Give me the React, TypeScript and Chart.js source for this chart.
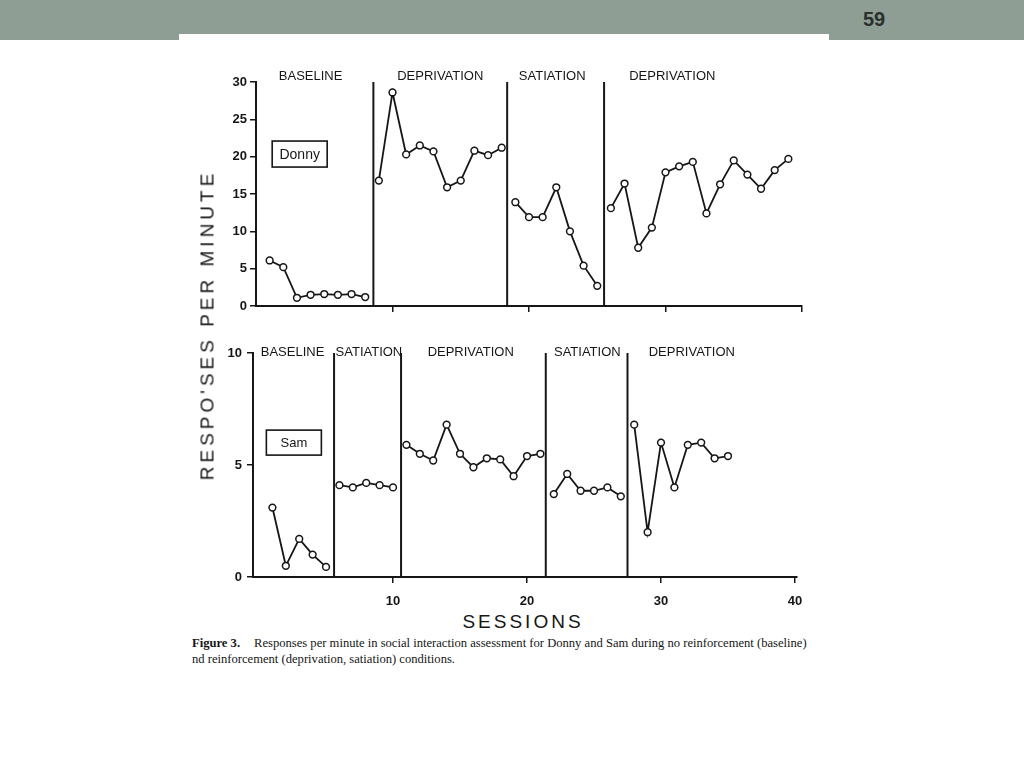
import React, { useEffect, useRef } from "react";
import { Chart, registerables } from "chart.js";

Chart.register(...registerables);

// ---------- data ----------
const sessionTicks = [10, 20, 30, 40];

const donnyBaseline = [6.1, 5.2, 1.1, 1.5, 1.6, 1.5, 1.6, 1.2];
const donnyDeprivation1 = [16.8, 28.6, 20.3, 21.5, 20.7, 15.9, 16.8, 20.8, 20.2, 21.2];
const donnySatiation = [13.9, 11.9, 11.9, 15.9, 10.0, 5.4, 2.7];
const donnyDeprivation2 = [13.1, 16.4, 7.8, 10.5, 17.9, 18.7, 19.3, 12.4, 16.3, 19.5, 17.6, 15.7, 18.2, 19.7];
const donnyStarts = [1, 9, 19, 26];
const donnyPhaseChanges = [8.6, 18.4, 25.5];
const donnyPhaseNames = ["BASELINE", "DEPRIVATION", "SATIATION", "DEPRIVATION"];
const donnyPhaseLabelAt = [4.0, 13.5, 21.7, 30.5];

const samBaseline = [3.1, 0.5, 1.7, 1.0, 0.45];
const samSatiation1 = [4.1, 4.0, 4.2, 4.1, 4.0];
const samDeprivation1 = [5.9, 5.5, 5.2, 6.8, 5.5, 4.9, 5.3, 5.25, 4.5, 5.4, 5.5];
const samSatiation2 = [3.7, 4.6, 3.85, 3.85, 4.0, 3.6];
const samDeprivation2 = [6.8, 2.0, 6.0, 4.0, 5.9, 6.0, 5.3, 5.4];
const samStarts = [1, 6, 11, 22, 28];
const samPhaseChanges = [5.6, 10.6, 21.4, 27.5];
const samPhaseNames = ["BASELINE", "SATIATION", "DEPRIVATION", "SATIATION", "DEPRIVATION"];
const samPhaseLabelAt = [2.5, 8.2, 15.8, 24.5, 32.3];

// ---------- style ----------
const INK = "#161616";
const SANS = '"Liberation Sans", Arial, sans-serif';
const SERIF = '"Liberation Serif", "Times New Roman", serif';

type PanelProps = {
  series: number[][];
  starts: number[];
  yMax: number;
  yStep: number;
  xMin: number;
  xMax: number;
  showXLabels: boolean;
  changes: number[];
  names: string[];
  labelAt: number[];
  labelDy: number;
  subject: string;
  subjectAt: [number, number];
  subjectBox: [number, number];
  subjectFont: number;
  left: number;
  top: number;
  width: number;
  height: number;
  yAxisWidth: number;
  xAxisHeight: number;
  padTop: number;
  padRight: number;
  yTickPadding: number;
  xTickPadding: number;
};

function Panel(p: PanelProps) {
  const ref = useRef<HTMLCanvasElement | null>(null);

  useEffect(() => {
    if (!ref.current) return;

    const notes = {
      id: "phaseNotes",
      beforeDatasetsDraw(chart: any) {
        const { ctx, chartArea, scales } = chart;
        ctx.save();
        ctx.strokeStyle = INK;
        ctx.lineWidth = 2;
        p.changes.forEach((v) => {
          const x = scales.x.getPixelForValue(v);
          ctx.beginPath();
          ctx.moveTo(x, chartArea.top);
          ctx.lineTo(x, chartArea.bottom);
          ctx.stroke();
        });
        ctx.restore();
      },
      afterDraw(chart: any) {
        const { ctx, chartArea, scales } = chart;
        ctx.save();
        ctx.fillStyle = INK;
        ctx.font = `13px ${SANS}`;
        ctx.textAlign = "center";
        ctx.textBaseline = "middle";
        p.names.forEach((n, i) => {
          ctx.fillText(n, scales.x.getPixelForValue(p.labelAt[i]), chartArea.top + p.labelDy);
        });
        const cx = scales.x.getPixelForValue(p.subjectAt[0]);
        const cy = scales.y.getPixelForValue(p.subjectAt[1]);
        const [w, h] = p.subjectBox;
        ctx.fillStyle = "#fff";
        ctx.fillRect(cx - w / 2, cy - h / 2, w, h);
        ctx.strokeStyle = INK;
        ctx.lineWidth = 1.6;
        ctx.strokeRect(cx - w / 2, cy - h / 2, w, h);
        ctx.fillStyle = INK;
        ctx.font = `${p.subjectFont}px ${SANS}`;
        ctx.fillText(p.subject, cx, cy + 1);
        ctx.restore();
      },
    };

    const datasets = p.series.map((vals, k) => ({
      data: vals.map((v, i) => ({ x: p.starts[k] + i, y: v })),
      borderColor: INK,
      borderWidth: 1.8,
      pointRadius: 3.4,
      pointBorderWidth: 1.5,
      pointBackgroundColor: "#fff",
      pointBorderColor: INK,
      tension: 0,
      fill: false,
    }));

    const gridStyle = {
      drawOnChartArea: false,
      drawTicks: true,
      tickLength: 6,
      color: INK,
      lineWidth: 1.5,
    };

    const chart = new Chart(ref.current, {
      type: "line",
      data: { datasets },
      plugins: [notes],
      options: {
        animation: false,
        responsive: false,
        maintainAspectRatio: false,
        layout: { padding: { top: p.padTop, right: p.padRight, left: 0, bottom: 0 } },
        plugins: {
          legend: { display: false },
          tooltip: { enabled: false },
          title: { display: false },
        },
        scales: {
          x: {
            type: "linear",
            min: p.xMin,
            max: p.xMax,
            afterBuildTicks: (s: any) => {
              s.ticks = sessionTicks.map((v) => ({ value: v }));
            },
            ticks: {
              display: p.showXLabels,
              autoSkip: false,
              maxRotation: 0,
              padding: p.xTickPadding,
              color: INK,
              font: { family: SANS, size: 13, weight: "bold" },
              callback: (v: any) => String(v),
            },
            grid: gridStyle,
            border: { display: true, color: INK, width: 2 },
            afterFit: (s: any) => {
              s.height = p.xAxisHeight;
            },
          },
          y: {
            min: 0,
            max: p.yMax,
            ticks: {
              stepSize: p.yStep,
              padding: p.yTickPadding,
              color: INK,
              font: { family: SANS, size: 13, weight: "bold" },
            },
            grid: gridStyle,
            border: { display: true, color: INK, width: 2 },
            afterFit: (s: any) => {
              s.width = p.yAxisWidth;
            },
          },
        },
      } as any,
    });

    return () => chart.destroy();
  }, []);

  return (
    <canvas
      ref={ref}
      width={p.width}
      height={p.height}
      style={{ position: "absolute", left: p.left, top: p.top, width: p.width, height: p.height }}
    />
  );
}

const spaced = (size: number, spacing: number): React.CSSProperties => ({
  position: "absolute",
  fontFamily: SANS,
  fontSize: size,
  letterSpacing: spacing,
  color: INK,
  whiteSpace: "nowrap",
  lineHeight: 1,
});

export default function App() {
  return (
    <div
      style={{
        position: "absolute",
        left: 0,
        top: 0,
        width: 1024,
        height: 768,
        overflow: "hidden",
        background: "#fff",
      }}
    >
      <div style={{ position: "absolute", left: 0, top: 0, width: 1024, height: 40, background: "#8f9e94" }} />
      <div
        style={{
          position: "absolute",
          left: 863,
          top: 9,
          fontFamily: SANS,
          fontWeight: "bold",
          fontSize: 20,
          color: "#2a2f2f",
          lineHeight: 1,
        }}
      >
        59
      </div>
      <div style={{ position: "absolute", left: 179, top: 34, width: 650, height: 734, background: "#fff" }} />

      <Panel
        series={[donnyBaseline, donnyDeprivation1, donnySatiation, donnyDeprivation2]}
        starts={donnyStarts}
        yMax={30}
        yStep={5}
        xMin={0}
        xMax={40}
        showXLabels={false}
        changes={donnyPhaseChanges}
        names={donnyPhaseNames}
        labelAt={donnyPhaseLabelAt}
        labelDy={-6}
        subject="Donny"
        subjectAt={[3.2, 20.35]}
        subjectBox={[55, 26]}
        subjectFont={14}
        left={180}
        top={60}
        width={640}
        height={270}
        yAxisWidth={76}
        xAxisHeight={24}
        padTop={22}
        padRight={18}
        yTickPadding={3}
        xTickPadding={3}
      />
      <Panel
        series={[samBaseline, samSatiation1, samDeprivation1, samSatiation2, samDeprivation2]}
        starts={samStarts}
        yMax={10}
        yStep={5}
        xMin={-0.45}
        xMax={40.15}
        showXLabels={true}
        changes={samPhaseChanges}
        names={samPhaseNames}
        labelAt={samPhaseLabelAt}
        labelDy={-1}
        subject="Sam"
        subjectAt={[2.6, 6.0]}
        subjectBox={[55, 25]}
        subjectFont={13}
        left={180}
        top={330}
        width={640}
        height={280}
        yAxisWidth={73}
        xAxisHeight={33}
        padTop={23}
        padRight={23}
        yTickPadding={5}
        xTickPadding={11}
      />

      <div
        style={{
          ...spaced(19, 4.0),
          left: 207,
          top: 325,
          transform: "translate(-50%, -50%) rotate(-90deg)",
        }}
      >
        RESPO'SES PER MINUTE
      </div>
      <div style={{ ...spaced(19, 3), left: 523, top: 621, transform: "translate(-50%, -50%)" }}>SESSIONS</div>

      <div
        style={{
          position: "absolute",
          left: 192,
          top: 635,
          fontFamily: SERIF,
          fontSize: 12.6,
          lineHeight: "16px",
          color: INK,
          whiteSpace: "nowrap",
        }}
      >
        <div>
          <b>Figure 3.</b>
          <span style={{ marginLeft: 14 }}>
            Responses per minute in social interaction assessment for Donny and Sam during no reinforcement
            (baseline)
          </span>
        </div>
        <div>nd reinforcement (deprivation, satiation) conditions.</div>
      </div>
    </div>
  );
}
